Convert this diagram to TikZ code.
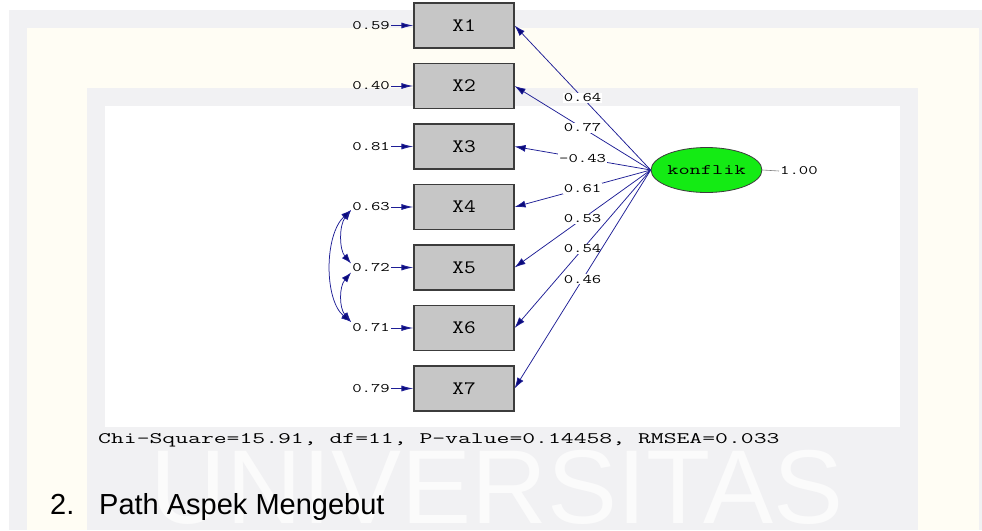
\documentclass[tikz,border=0pt]{standalone}
\usepackage{fontspec}
\newfontfamily\arialf{Liberation Sans}
\usetikzlibrary{arrows.meta,calc,shapes.geometric}
\definecolor{pathblue}{RGB}{30,30,150}
\definecolor{tipblue}{RGB}{10,10,120}
\definecolor{boxgray}{RGB}{198,198,198}
\definecolor{boxedge}{RGB}{60,60,60}
\definecolor{limegreen}{RGB}{20,235,20}
\definecolor{bandgray}{RGB}{241,241,243}
\definecolor{creamband}{RGB}{255,253,244}
\newcommand\monotext[3]{\scalebox{#2}[1]{\fontsize{#1}{#1}\ttfamily\selectfont #3}}
\tikzset{
  obsbox/.style={draw=boxedge, line width=1.1pt, fill=boxgray, minimum width=100pt, minimum height=45pt, inner sep=0pt},
  latent/.style={ellipse, draw=boxedge, line width=0.8pt, fill=limegreen, minimum width=99pt, minimum height=45pt, inner sep=0pt},
  errlbl/.style={anchor=east, inner sep=1pt, text=black},
  pathlbl/.style={fill=white, inner sep=1pt, text=black},
  patharrow/.style={draw=pathblue, line width=0.75pt, -{Latex[length=11pt,width=7pt,fill=tipblue]}},
  errarrow/.style={draw=pathblue, line width=1pt, -{Latex[length=12pt,width=6pt,fill=tipblue]}},
  covarrow/.style={draw=pathblue, line width=0.75pt, {Latex[length=10pt,width=7pt,fill=tipblue]}-{Latex[length=10pt,width=7pt,fill=tipblue]}}
}
\begin{document}
\begin{tikzpicture}[x=1pt,y=-1pt]
\useasboundingbox (0,0) rectangle (982,530);
% faint background frame
\fill[white] (0,0) rectangle (982,530);
\fill[bandgray] (9,10) rectangle (982,530);
\fill[creamband] (27,28) rectangle (979,530);
\fill[bandgray] (87,88) rectangle (918,530);
\fill[white] (105,106) rectangle (900,427);
\node[anchor=base, inner sep=0pt, text=white!70!bandgray] (wm) at (497,523) {\arialf\fontsize{105}{105}\selectfont UNIVERSITAS};

% observed variables
\foreach \i/\yy in {1/25.5,2/86,3/146.5,4/207,5/267.5,6/328,7/388.5}{
  \node[obsbox] (x\i) at (464,\yy) {\monotext{19}{1.2}{X\i}};
}
% error variances
\foreach \i/\v in {1/0.59,2/0.40,3/0.81,4/0.63,5/0.72,6/0.71,7/0.79}{
  \node[errlbl] (e\i) at (391,{25.5+60.5*(\i-1)}) {\monotext{13}{1.4}{\v}};
  \draw[errarrow] (e\i.east) -- (x\i.west);
}
% latent
\node[latent] (k) at (706.5,170) {\monotext{14.5}{1.5}{konflik}};
\node[anchor=west, inner sep=1pt] (one) at (779,171) {\monotext{13}{1.4}{1.00}};
\draw[gray, line width=0.6pt] (k.east) -- (one.west);

% loadings
\foreach \i/\v in {1/0.64,2/0.77,3/-0.43,4/0.61,5/0.53,6/0.54,7/0.46}{
  \draw[patharrow] (k.west) -- node[pathlbl, pos=0.5] {\monotext{13}{1.4}{\v}} (x\i.east);
}

% error covariances
\draw[covarrow] ($(e4.west)+(0,3)$) .. controls ($(e4.west)+(-12,18)$) and ($(e5.west)+(-12,-18)$) .. ($(e5.west)+(0,-4)$);
\draw[covarrow] ($(e5.west)+(0,5)$) .. controls ($(e5.west)+(-12,19)$) and ($(e6.west)+(-12,-20)$) .. ($(e6.west)+(0,-6)$);
\draw[covarrow] ($(e4.west)+(0,3)$) .. controls ($(e4.west)+(-27,28)$) and ($(e6.west)+(-27,-28)$) .. ($(e6.west)+(0,-6)$);

% fit statistics
\node[anchor=base west, inner sep=0pt] (fit) at (98,443) {\monotext{16}{1.56}{Chi-Square=15.91, df=11, P-value=0.14458, RMSEA=0.033}};
% caption
\node[anchor=base west, inner sep=0pt] (num) at (50,514) {\arialf\fontsize{29}{29}\selectfont 2.};
\node[anchor=base west, inner sep=0pt] (cap) at (99,514) {\arialf\fontsize{29}{29}\selectfont Path Aspek Mengebut};
\end{tikzpicture}
\end{document}
